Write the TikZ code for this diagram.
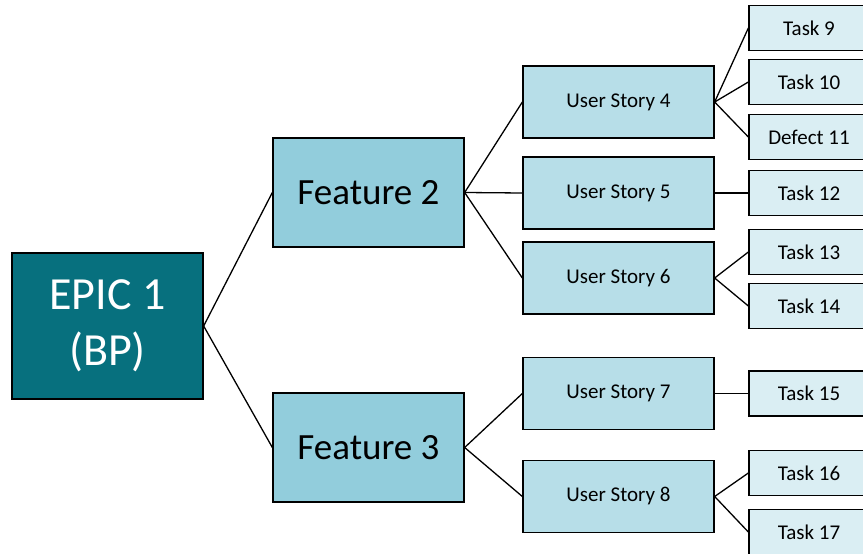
\documentclass[tikz,border=0pt]{standalone}
\usepackage{fontspec}
\setmainfont{Carlito}
\definecolor{epicfill}{RGB}{7,112,126}
\definecolor{featfill}{RGB}{146,205,220}
\definecolor{storyfill}{RGB}{183,222,232}
\definecolor{taskfill}{RGB}{218,238,243}
\tikzset{
    box/.style={draw=black, line width=1.3pt, inner sep=0pt, align=center},
    epicbox/.style={box, fill=epicfill, text=white, minimum width=191pt, minimum height=146pt,
        font=\fontsize{46}{56}\selectfont},
    featbox/.style={box, fill=featfill, minimum width=191pt, minimum height=109pt,
        font=\fontsize{37}{44}\selectfont},
    storybox/.style={box, fill=storyfill, minimum width=191pt, minimum height=72pt,
        font=\fontsize{21}{25}\selectfont},
    taskbox/.style={box, fill=taskfill, minimum width=120pt, minimum height=45pt,
        font=\fontsize{21}{25}\selectfont},
    link/.style={line width=1.3pt}
}
\begin{document}
\begin{tikzpicture}[x=1pt,y=-1pt]
    \useasboundingbox (0,0) rectangle (863,554);

    % epic and features
    \node[epicbox] (epic) at (107.5,326) {EPIC 1\\(BP)};
    \node[featbox] (f2) at (368.5,192.5) {Feature 2};
    \node[featbox] (f3) at (368.5,447.5) {Feature 3};

    % user stories
    \node[storybox] (us4) at (618.5,102) {User Story 4};
    \node[storybox] (us5) at (618.5,193) {User Story 5};
    \node[storybox] (us6) at (618.5,278) {User Story 6};
    \node[storybox] (us7) at (618.5,393.5) {User Story 7};
    \node[storybox] (us8) at (618.5,496.5) {User Story 8};

    % tasks and defects
    \node[taskbox] (t9)  at (809,28)  {Task 9};
    \node[taskbox] (t10) at (809,82)  {Task 10};
    \node[taskbox] (d11) at (809,137) {Defect 11};
    \node[taskbox] (t12) at (809,193) {Task 12};
    \node[taskbox] (t13) at (809,252) {Task 13};
    \node[taskbox] (t14) at (809,306) {Task 14};
    \node[taskbox] (t15) at (809,393.5) {Task 15};
    \node[taskbox] (t16) at (809,473) {Task 16};
    \node[taskbox] (t17) at (809,532) {Task 17};

    % connectors
    \foreach \a/\b in {epic/f2, epic/f3,
                       f2/us4, f2/us5, f2/us6, f3/us7, f3/us8,
                       us4/t9, us4/t10, us4/d11, us5/t12, us6/t13, us6/t14,
                       us7/t15, us8/t16, us8/t17}
        \draw[link] (\a.east) -- (\b.west);

\end{tikzpicture}
\end{document}
